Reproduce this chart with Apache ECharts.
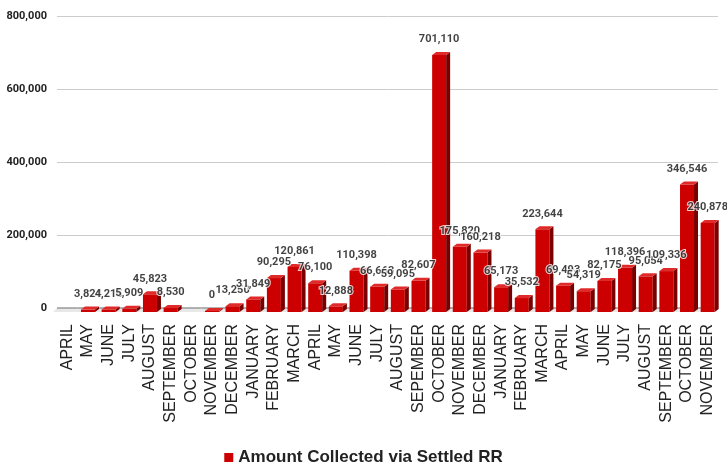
<!DOCTYPE html>
<html><head><meta charset="utf-8">
<script src="https://cdn.jsdelivr.net/npm/echarts@6/dist/echarts.min.js"></script>
<style>html,body{margin:0;padding:0;background:#fff}#c{width:727px;height:464px}</style>
</head><body><div id="c"></div>
<script>
const categories = ["APRIL","MAY","JUNE","JULY","AUGUST","SEPTEMBER","OCTOBER","NOVEMBER","DECEMBER","JANUARY","FEBRUARY","MARCH","APRIL","MAY","JUNE","JULY","AUGUST","SEPEMBER","OCTOBER","NOVEMBER","DECEMBER","JANUARY","FEBRUARY","MARCH","APRIL","MAY","JUNE","JULY","AUGUST","SEPTEMBER","OCTOBER","NOVEMBER"];
const amounts = [null,3824,4215,5909,45823,8530,null,0,13250,31849,90295,120861,76100,12888,110398,66663,59095,82607,701110,175820,160218,65173,35532,223644,69493,54319,82175,118396,95054,109336,346546,240878];
const seriesName = "Amount Collected via Settled RR";
const yTicks = {min:0, max:800000, interval:200000};

const chart = echarts.init(document.getElementById('c'));
const fmt = v => v.toLocaleString('en-US');
const data = amounts.map((v,i)=>[i,v===null?'-':v]);
chart.setOption({
  animation:false,
  grid:{left:57,right:9,top:16,bottom:156},
  legend:{top:444,left:'center',icon:'rect',itemWidth:9,itemHeight:9,itemGap:7,
    textStyle:{fontFamily:'Arial',fontWeight:'bold',fontSize:17,color:'#222'},
    data:[{name:seriesName,itemStyle:{color:'#cc0000'}}]},
  xAxis:{type:'category',data:categories,boundaryGap:true,
    axisLine:{show:false},axisTick:{show:false},
    axisLabel:{rotate:90,interval:0,margin:16,fontFamily:'Arial',fontSize:16,color:'#222'}},
  yAxis:{type:'value',min:yTicks.min,max:yTicks.max,interval:yTicks.interval,
    axisLine:{show:false},axisTick:{show:false},
    splitLine:{lineStyle:{color:'#cccccc'}},
    axisLabel:{margin:10,fontFamily:'Roboto',fontWeight:'bold',fontSize:11,color:'#222',formatter:v=>fmt(v)}},
  series:[{
    name:seriesName,type:'custom',data:data,
    renderItem:function(params,api){
      const x = api.value(0);
      const v = api.value(1);
      const p0 = api.coord([x,0]);
      const band = api.size([1,0])[0];
      const dx=4, dy=4;
      const children = [
        {type:'polygon',z2:0,shape:{points:[[p0[0]-band/2,p0[1]],[p0[0]+band/2,p0[1]],[p0[0]+band/2-dx,p0[1]+dy],[p0[0]-band/2-dx,p0[1]+dy]]},style:{fill:'#e8e8e8'}},
        {type:'line',z2:1,shape:{x1:p0[0]-band/2,y1:p0[1],x2:p0[0]+band/2,y2:p0[1]},style:{stroke:'#9a9a9a',lineWidth:1.5}}
      ];
      if (!(v===null || v===undefined || isNaN(v))) {
        const p1 = api.coord([x,v]);
        const bw=14, sx=4, sy=3;
        const xl=p0[0]-bw/2, xr=p0[0]+bw/2, yb=p0[1]+sy+1, yt=Math.min(p1[1]+sy, yb);
        children.push(
          {type:'rect',z2:3,shape:{x:xl,y:yt,width:bw,height:yb-yt},style:{fill:'#cc0000'}},
          {type:'polygon',z2:3,shape:{points:[[xr,yt],[xr+sx,yt-sy],[xr+sx,yb-sy],[xr,yb]]},style:{fill:'#7a0000'}},
          {type:'polygon',z2:3,shape:{points:[[xl,yt],[xl+sx,yt-sy],[xr+sx,yt-sy],[xr,yt]]},style:{fill:'#e02a2a'}}
        );
      }
      return {type:'group',children:children};
    },
    z:3
  },{
    name:'labels',type:'scatter',data:amounts.map((v,i)=>[i,v]).filter(d=>d[1]!==null),symbolSize:0,silent:true,z:5,
    label:{show:true,position:'top',distance:7,formatter:p=>fmt(p.value[1]),
      fontFamily:'Roboto',fontWeight:'bold',fontSize:11,color:'#111',textBorderColor:'#fff',textBorderWidth:2}
  }]
});
</script></body></html>
